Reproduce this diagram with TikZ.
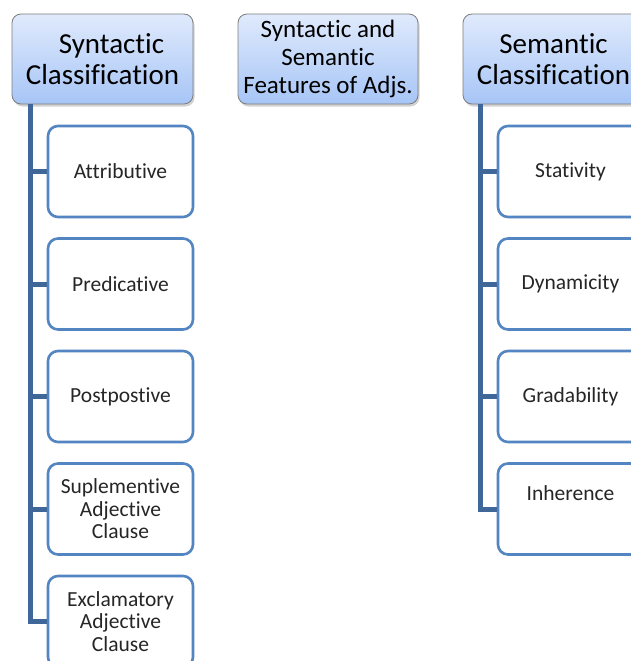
\documentclass[tikz,border=0pt]{standalone}
\usepackage{fontspec}
\setmainfont{Carlito}[Ligatures = NoCommon]
\usepackage{tikz}
\usetikzlibrary{shadows}
\tikzset{>=latex}
\definecolor{myblue}{RGB}{84, 133, 195}
\definecolor{myspine}{RGB}{64, 103, 153}
\definecolor{mytop}{RGB}{224, 234, 252}
\definecolor{mybot}{RGB}{166, 197, 246}
\definecolor{mygray}{RGB}{125, 125, 125}
\definecolor{mytext}{RGB}{38, 38, 38}
\tikzset{
  head/.style = {draw = mygray, line width = 0.8pt, rounded corners = 9pt,
    top color = mytop, bottom color = mybot, minimum width = 181pt,
    minimum height = 90pt, align = center, inner sep = 0pt,
    drop shadow = {opacity = 0.35, shadow xshift = 1.5pt, shadow yshift = -2.5pt}},
  item/.style = {draw = myblue, line width = 2.6pt, rounded corners = 10pt,
    fill = white, minimum width = 145pt, minimum height = 91pt, align = center,
    inner sep = 0pt, text = mytext, font = \fontsize{21.5}{22.5}\selectfont},
  spine/.style = {draw = myspine, line width = 5pt}
}

\begin{document}
\begin{tikzpicture}[x = 1pt, y = -1pt]
\useasboundingbox (0, 0) rectangle (631, 661);
\clip (0, 0) rectangle (631, 661);
\fill[white] (0, 0) rectangle (631, 661);
\node[head, font = \fontsize{29}{31}\selectfont] (synt) at (102.5, 59) {\hspace*{18pt}Syntactic\\Classification};
\node[head, minimum width = 180pt, font = \fontsize{25}{28}\selectfont] (feat) at (328, 59) {Syntactic and\\Semantic\\Features of Adjs.};
\node[head, font = \fontsize{29}{31}\selectfont] (sema) at (553.5, 59) {Semantic\\Classification};
\node[item] (attr) at (120.5, 171.5) {Attributive};
\node[item] (pred) at (120.5, 284) {Predicative};
\node[item] (post) at (120.5, 396.5) {Postpostive};
\node[item] (supl) at (120.5, 509) {Suplementive\\Adjective\\Clause};
\node[item] (excl) at (120.5, 621.5) {Exclamatory\\Adjective\\Clause};
\node[item] (stat) at (570.5, 171.5) {Stativity};
\node[item] (dyna) at (570.5, 284) {Dynamicity};
\node[item] (grad) at (570.5, 396.5) {Gradability};
\node[item] (inhe) at (570.5, 509) {\raisebox{9pt}[0pt][0pt]{Inherence}};
\coordinate (sL) at ([xshift = 18.5pt] synt.south west);
\coordinate (sR) at ([xshift = 18pt] sema.south west);
\draw[spine] (sL) |- (attr.west);
\draw[spine] (sL) |- (pred.west);
\draw[spine] (sL) |- (post.west);
\draw[spine] (sL) |- (supl.west);
\draw[spine] (sL) |- (excl.west);
\draw[spine] (sR) |- (stat.west);
\draw[spine] (sR) |- (dyna.west);
\draw[spine] (sR) |- (grad.west);
\draw[spine] (sR) |- (inhe.west);
\end{tikzpicture}
\end{document}
